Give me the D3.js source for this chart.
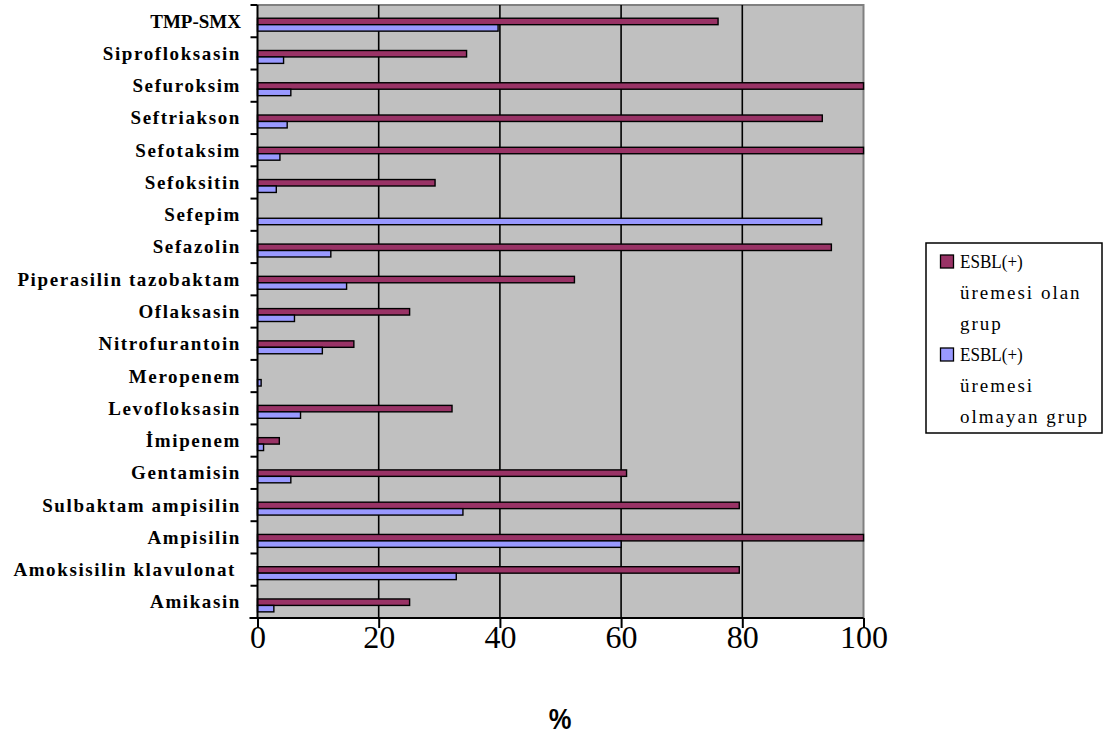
<!DOCTYPE html>
<html>
<head>
<meta charset="utf-8">
<script src="https://cdn.jsdelivr.net/npm/d3@7"></script>
<style>
  html, body { margin: 0; padding: 0; background: #ffffff; }
  svg { display: block; }
  .serif { font-family: "Liberation Serif", "Times New Roman", Times, serif; }
  .sans { font-family: "Liberation Sans", Arial, Helvetica, sans-serif; }
</style>
</head>
<body>
<svg id="chart" width="1103" height="735"></svg>
<script>
// Antibiotic names, top to bottom
const categories = [
  "TMP-SMX", "Siprofloksasin", "Sefuroksim", "Seftriakson", "Sefotaksim",
  "Sefoksitin", "Sefepim", "Sefazolin", "Piperasilin tazobaktam", "Oflaksasin",
  "Nitrofurantoin", "Meropenem", "Levofloksasin", "İmipenem", "Gentamisin",
  "Sulbaktam ampisilin", "Ampisilin", "Amoksisilin klavulonat", "Amikasin"
];

// Resistance (%) in the ESBL(+) growth group
const esblPositive = [
  76.0, 34.5, 100, 93.2, 100,
  29.3, 0, 94.7, 52.3, 25.1,
  15.9, 0, 32.1, 3.6, 60.9,
  79.5, 100, 79.5, 25.1
];

// Resistance (%) in the group without ESBL(+) growth
const esblNegative = [
  39.7, 4.3, 5.5, 4.9, 3.7,
  3.1, 93.1, 12.1, 14.7, 6.1,
  10.7, 0.6, 7.1, 1.0, 5.5,
  33.9, 60.0, 32.8, 2.7
];

const seriesNames = ["ESBL(+)\nüremesi olan\ngrup", "ESBL(+)\nüremesi\nolmayan grup"];
const seriesColors = ["#993366", "#9999FF"];
const xTicks = [0, 20, 40, 60, 80, 100];
const xTitle = "%";

const svg = d3.select("#chart");
const plot = { left: 257.5, right: 863.5, top: 5, bottom: 618 };

const x = d3.scaleLinear().domain([0, 100]).range([plot.left, plot.right]);
const y = d3.scaleBand().domain(categories).range([plot.top, plot.bottom]);
const bw = y.bandwidth();
const inner = d3.scaleBand().domain([0, 1]).range([bw * 0.41, bw * 0.81]);

// plot background
svg.append("rect")
  .attr("x", plot.left).attr("y", plot.top)
  .attr("width", plot.right - plot.left).attr("height", plot.bottom - plot.top)
  .attr("fill", "#C0C0C0");

// top and right frame
svg.append("path")
  .attr("d", `M${plot.left},${plot.top}H${plot.right}V${plot.bottom}`)
  .attr("fill", "none").attr("stroke", "#808080").attr("stroke-width", 2);

// vertical gridlines
svg.append("g").selectAll("line")
  .data(xTicks.filter(t => t > 0 && t < 100))
  .join("line")
  .attr("x1", d => x(d)).attr("x2", d => x(d))
  .attr("y1", plot.top).attr("y2", plot.bottom)
  .attr("stroke", "#000").attr("stroke-width", 1.6);

// bars
const series = [esblPositive, esblNegative];
series.forEach((vals, si) => {
  svg.append("g").selectAll("rect")
    .data(categories.map((c, i) => ({ c, v: vals[i] })).filter(d => d.v > 0))
    .join("rect")
    .attr("x", x(0))
    .attr("y", d => y(d.c) + inner(si))
    .attr("width", d => x(d.v) - x(0))
    .attr("height", inner.bandwidth())
    .attr("fill", seriesColors[si])
    .attr("stroke", "#000")
    .attr("stroke-width", 1.4);
});

// x axis
const xAxis = svg.append("g")
  .attr("transform", `translate(0,${plot.bottom})`)
  .call(d3.axisBottom(x).tickValues(xTicks).tickSize(10).tickSizeOuter(0));
xAxis.attr("font-family", null).attr("font-size", null);
xAxis.select(".domain").attr("stroke", "#000").attr("stroke-width", 2)
  .attr("d", `M${plot.left - 8},0H${plot.right}`);
xAxis.selectAll(".tick line").attr("stroke", "#000").attr("stroke-width", 2);
xAxis.selectAll(".tick text")
  .attr("class", "serif")
  .style("font-size", "32px")
  .attr("fill", "#000")
  .attr("dy", null).attr("y", 30);

// y axis line and ticks on category boundaries
svg.append("line")
  .attr("x1", plot.left).attr("x2", plot.left)
  .attr("y1", plot.top).attr("y2", plot.bottom)
  .attr("stroke", "#000").attr("stroke-width", 2);
const bounds = categories.map(c => y(c)).concat([plot.bottom]);
svg.append("g").selectAll("line")
  .data(bounds)
  .join("line")
  .attr("x1", plot.left - 7).attr("x2", plot.left)
  .attr("y1", d => d).attr("y2", d => d)
  .attr("stroke", "#000").attr("stroke-width", 2);

// category labels
svg.append("g").selectAll("text")
  .data(categories)
  .join("text")
  .attr("class", "serif")
  .attr("transform", (d, i) => `translate(${i === 17 ? 236 : 241},${y(d) + bw / 2 + 6.5})`)
  .attr("text-anchor", "end")
  .style("font-weight", "bold")
  .style("font-size", "19px")
  .style("letter-spacing", d => d === "TMP-SMX" ? "0px" : "1.6px")
  .attr("fill", "#000")
  .text(d => d);

// axis title
svg.append("text")
  .attr("class", "sans")
  .attr("transform", `translate(560,729) scale(0.85,1)`)
  .attr("text-anchor", "middle")
  .style("font-weight", "bold")
  .style("font-size", "30px")
  .attr("fill", "#000")
  .text(xTitle);

// legend
const legend = svg.append("g");
legend.append("rect")
  .attr("x", 926).attr("y", 243).attr("width", 176).attr("height", 190)
  .attr("fill", "#fff").attr("stroke", "#000").attr("stroke-width", 1.5);
const lineH = 31;
seriesNames.forEach((name, si) => {
  const lines = name.split("\n");
  const y0 = 268 + si * 3 * lineH;
  legend.append("rect")
    .attr("x", 940.5).attr("y", y0 - 13)
    .attr("width", 13).attr("height", 13)
    .attr("fill", seriesColors[si]).attr("stroke", "#000").attr("stroke-width", 1.3);
  lines.forEach((ln, li) => {
    const first = li === 0;
    legend.append("text")
      .attr("class", "serif")
      .attr("transform", `translate(960,${y0 + li * lineH}) scale(${first ? 0.9 : 1},1)`)
      .style("font-size", "19px")
      .style("letter-spacing", first ? "0px" : "2px")
      .attr("fill", "#000")
      .text(ln);
  });
});
</script>
</body>
</html>
